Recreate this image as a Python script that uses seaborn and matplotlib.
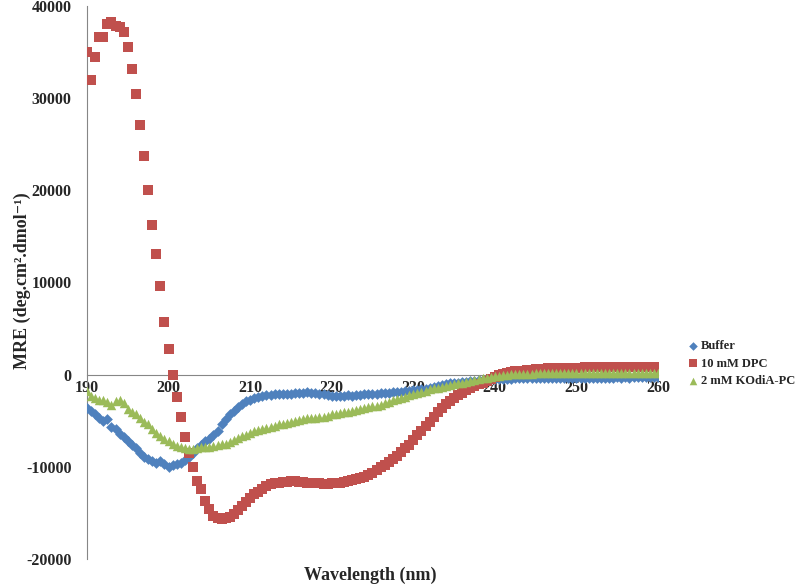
import numpy as np
import pandas as pd
import matplotlib
matplotlib.use("Agg")
import matplotlib.pyplot as plt
import seaborn as sns
from matplotlib.ticker import MultipleLocator

# CD spectra, one reading every 0.5 nm from 190 to 260 nm
wavelength = np.arange(190, 260.5, 0.5)

buffer_mre = [
    -3600, -3900, -4300, -4700, -5000, -4800, -5700, -5900, -6400, -6800,
    -7200, -7600, -8000, -8500, -8900, -9200, -9400, -9550, -9400, -9700,
    -10000, -9850, -9700, -9600, -9300, -8900, -8500, -8000, -7600, -7200,
    -7000, -6600, -6100, -5400, -4800, -4300, -3900, -3500, -3200, -2900,
    -2700, -2500, -2400, -2300, -2200, -2200, -2150, -2100, -2150, -2100,
    -2050, -2000, -1950, -1950, -1900, -1950, -2000, -2100, -2150, -2200,
    -2300, -2300, -2350, -2300, -2250, -2300, -2250, -2200, -2150, -2150,
    -2100, -2050, -2000, -1950, -1950, -1900, -1850, -1850, -1800, -1750,
    -1700, -1650, -1600, -1550, -1450, -1350, -1200, -1100, -1050, -950,
    -900, -850, -800, -750, -700, -650, -600, -550, -500, -480,
    -450, -450, -440, -430, -420, -400, -400, -400, -400, -380,
    -380, -360, -370, -360, -350, -350, -340, -350, -340, -330,
    -340, -330, -330, -320, -330, -320, -310, -320, -310, -320,
    -300, -310, -300, -310, -300, -290, -300, -290, -300, -290,
    -300,
]

dpc_mre = [
    35000, 32000, 34500, 36600, 36600, 38000, 38300, 37800, 37700, 37200,
    35600, 33200, 30500, 27100, 23700, 20000, 16200, 13100, 9600, 5700,
    2800, 0, -2400, -4600, -6800, -8500, -10000, -11500, -12400, -13700,
    -14600, -15300, -15550, -15650, -15600, -15400, -15100, -14700, -14200, -13800,
    -13400, -13000, -12700, -12400, -12100, -11900, -11800, -11700, -11650, -11600,
    -11580, -11580, -11620, -11680, -11700, -11750, -11780, -11800, -11830, -11830,
    -11800, -11780, -11720, -11680, -11580, -11470, -11350, -11200, -11050, -10850,
    -10650, -10350, -10050, -9750, -9450, -9150, -8800, -8400, -8000, -7600,
    -7100, -6600, -6100, -5600, -5100, -4550, -4050, -3600, -3200, -2850,
    -2500, -2200, -1950, -1700, -1450, -1250, -1050, -850, -650, -450,
    -250, -50, 100, 200, 300, 350, 400, 450, 500, 550,
    600, 620, 650, 670, 690, 700, 720, 730, 740, 750,
    760, 770, 780, 850, 820, 790, 780, 770, 780, 790,
    780, 770, 780, 790, 800, 820, 840, 810, 790, 780,
    770,
]

kodia_mre = [
    -1800, -2300, -2500, -2700, -2700, -3000, -3300, -2900, -2800, -3100,
    -3700, -4000, -4300, -4700, -5100, -5400, -5900, -6300, -6700, -7000,
    -7250, -7550, -7750, -7900, -7950, -8050, -8050, -7950, -7900, -7850,
    -7800, -7700, -7650, -7550, -7500, -7300, -7100, -6900, -6700, -6500,
    -6300, -6150, -6000, -5850, -5750, -5650, -5550, -5400, -5300, -5200,
    -5100, -5000, -4900, -4800, -4750, -4700, -4650, -4600, -4600, -4500,
    -4300, -4250, -4150, -4100, -4000, -3900, -3800, -3750, -3650, -3550,
    -3450, -3350, -3250, -3100, -2950, -2800, -2650, -2550, -2400, -2250,
    -2100, -1950, -1850, -1750, -1600, -1500, -1400, -1300, -1200, -1100,
    -1000, -900, -850, -750, -650, -550, -450, -400, -320, -250,
    -180, -120, -60, 0, 30, 60, 80, 100, 110, 120,
    130, 140, 140, 150, 150, 160, 160, 170, 160, 170,
    170, 180, 170, 180, 180, 190, 180, 190, 180, 190,
    190, 200, 190, 200, 200, 210, 200, 210, 200, 210,
    200,
]

labels = ["Buffer", "10 mM DPC", "2 mM KOdiA-PC"]
series = [buffer_mre, dpc_mre, kodia_mre]
colors = ["#4F81BD", "#C0504D", "#9BBB59"]
markers = ["D", "s", "^"]
sizes = [30, 52, 46]

sns.set_style("white")
plt.rcParams["font.family"] = ["Liberation Serif", "DejaVu Serif"]
plt.rcParams["font.weight"] = "bold"
plt.rcParams["axes.unicode_minus"] = False

fig = plt.figure(figsize=(8, 5.85), dpi=100)
ax = fig.add_axes([87 / 800, 1 - 559 / 585, (658 - 87) / 800, (559 - 6) / 585])

for lab, vals, col, mk, sz in zip(labels, series, colors, markers, sizes):
    df = pd.DataFrame({"Wavelength": wavelength, "MRE": vals})
    sns.scatterplot(data=df, x="Wavelength", y="MRE", color=col, marker=mk,
                    s=sz, linewidth=0, label=lab, ax=ax, zorder=3)

ax.set_xlim(190, 260)
ax.set_ylim(-20000, 40000)
ax.set_xlabel("")
ax.set_ylabel("")

# axes like the Excel original: x axis crossing at zero
gray = "#868686"
ax.spines["top"].set_visible(False)
ax.spines["right"].set_visible(False)
ax.spines["bottom"].set_position(("data", 0))
ax.spines["bottom"].set_color(gray)
ax.spines["left"].set_color(gray)
ax.spines["bottom"].set_zorder(1)

ax.xaxis.set_major_locator(MultipleLocator(10))
ax.xaxis.set_minor_locator(MultipleLocator(10 / 15))
ax.yaxis.set_major_locator(MultipleLocator(10000))
ax.tick_params(axis="x", which="both", direction="inout", color=gray,
               length=8, width=0.8, pad=0, labelsize=11.5)
ax.tick_params(axis="x", which="minor", length=7)
ax.tick_params(axis="y", direction="out", color=gray, length=5, width=0.8,
               pad=6, labelsize=11.5)
for t in ax.get_xticklabels() + ax.get_yticklabels():
    t.set_fontweight("bold")

fig.text(22 / 800, 1 - 281 / 585, "MRE (deg.cm\u00b2.dmol\u207b\u00b9)",
         rotation=90, ha="center", va="center", fontsize=13, fontweight="bold")
fig.text(370 / 800, 1 - 575 / 585, "Wavelength (nm)", ha="center",
         va="center", fontsize=13, fontweight="bold")

ax.legend(loc="upper left", bbox_to_anchor=(688 / 800, 1 - 340 / 585),
          bbox_transform=fig.transFigure, frameon=False, borderpad=0,
          borderaxespad=0, handlelength=0.8, handletextpad=0.25,
          labelspacing=0.45, markerscale=0.8,
          prop={"family": ["Liberation Serif", "DejaVu Serif"],
                "weight": "bold", "size": 9})

fig.savefig("out.png", dpi=100)
